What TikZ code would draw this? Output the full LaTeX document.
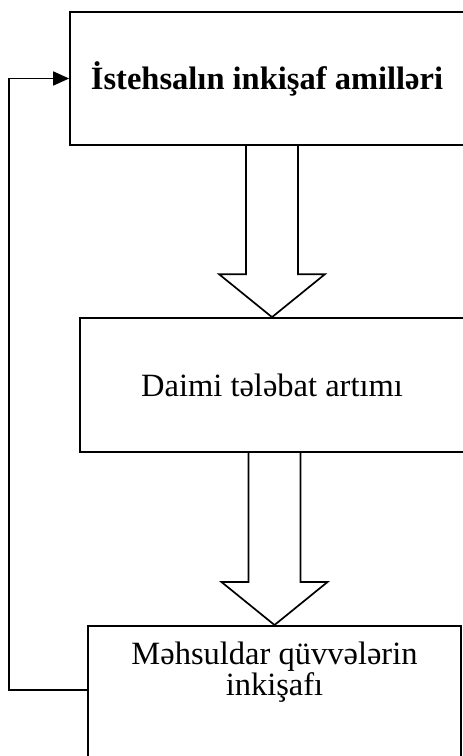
\documentclass[tikz,border=0pt]{standalone}
\usepackage{fontspec}
\setmainfont{Liberation Serif}
\usetikzlibrary{arrows.meta,calc}

\newcommand{\bigarrow}[2]{%
  \draw[blockarrow] let \p1=(#1.south), \p2=(#2.north) in
    (\x2-26pt,\y1) -- (\x2-26pt,\y2+43pt) -- (\x2-53pt,\y2+43pt) -- (\p2)
    -- (\x2+53pt,\y2+43pt) -- (\x2+26pt,\y2+43pt) -- (\x2+26pt,\y1);}

\begin{document}
\begin{tikzpicture}[x=1pt,y=-1pt, line width=1.7pt,
    every node/.style={font=\fontsize{32.5}{31}\selectfont},
    box/.style={draw,rectangle,align=center,inner sep=0pt},
    blockarrow/.style={draw,line join=miter},
    feedback/.style={-{Triangle[length=16pt,width=14pt]}}]
  \useasboundingbox (0,0) rectangle (463,756);
  \clip (0,0) rectangle (463,756);
  \node[box,minimum width=394,minimum height=133] (a) at (267,78.5) {\bfseries İstehsalın inkişaf amilləri};
  \node[box,minimum width=384,minimum height=134] (b) at (272,385) {Daimi tələbat artımı};
  \node[box,minimum width=373,anchor=north,inner ysep=16pt,text depth=150pt] (c) at (274.5,625) {Məhsuldar qüvvələrin\\inkişafı};
  \bigarrow{a}{b}
  \bigarrow{b}{c}
  % feedback loop back to the top box
  \draw[feedback] ($(c.north west)+(0,65)$) -- ++(-78,0) |- (a.west);
\end{tikzpicture}
\end{document}
